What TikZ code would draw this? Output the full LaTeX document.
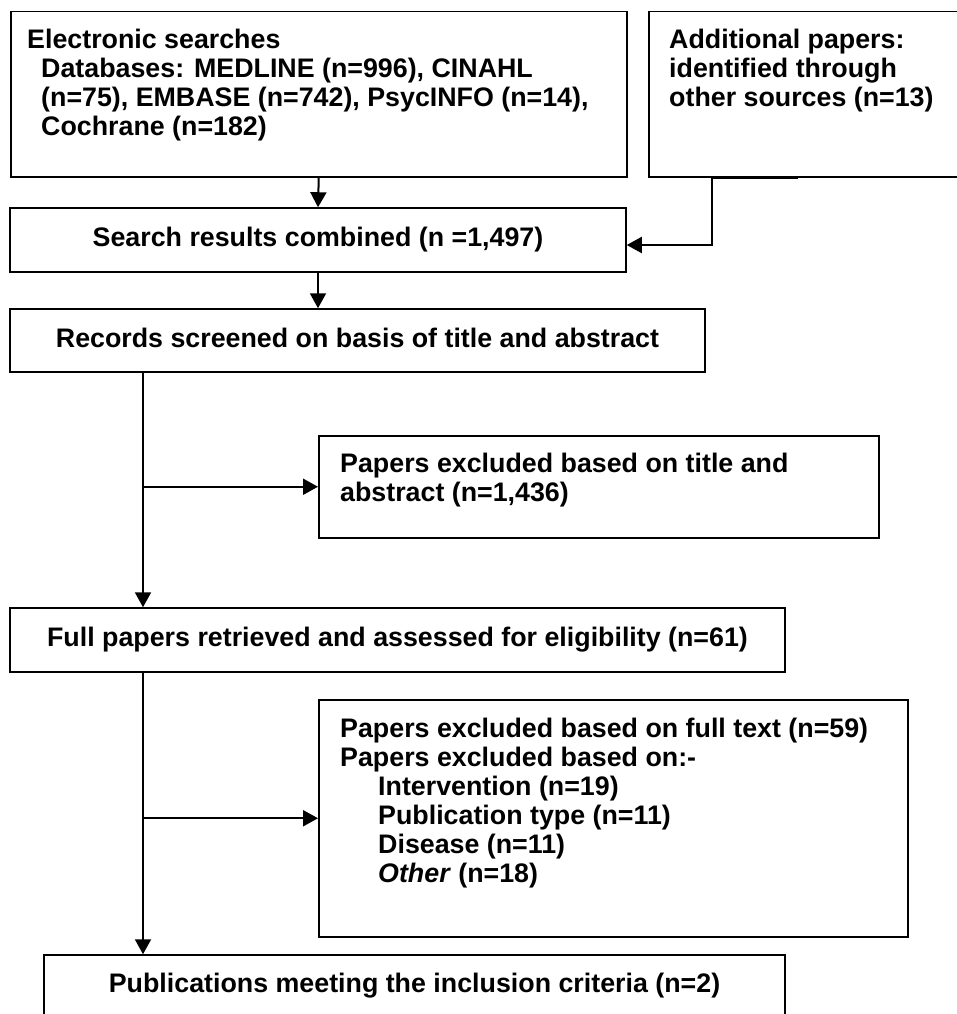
\documentclass[tikz,border=0pt]{standalone}
\usepackage{fontspec}
\setmainfont{Liberation Sans}
\usetikzlibrary{arrows.meta,positioning}

\begin{document}
\begin{tikzpicture}[
  x=1pt, y=-1pt,
  font=\fontsize{26.8}{29}\selectfont\bfseries,
  box/.style={draw=black, line width=1.5pt, anchor=north west, inner sep=0pt},
  cbox/.style={draw=black, line width=1.5pt, inner sep=0pt, text height=19.5pt, text depth=5.6pt},
  txt/.style={anchor=north west, inner sep=0pt, align=left},
  arr/.style={-{Triangle[length=15pt, width=16pt]}, line width=2pt}]
\path[use as bounding box, fill=white] (0,0) rectangle (956,1014);
% boxes
\node[box, minimum width=616pt, minimum height=165pt] (elec) at (10,11) {};
\node[box, minimum width=320pt, minimum height=165pt] (add) at (648,11) {};
\node[cbox, minimum width=616pt, minimum height=64pt] (search) at (318,240) {Search results combined (n =1,497)};
\node[cbox, minimum width=695pt, minimum height=63pt] (rec) at (357.5,340.5) {Records screened on basis of title and abstract};
\node[box, minimum width=560pt, minimum height=102pt] (excla) at (318,435) {};
\node[cbox, minimum width=775pt, minimum height=64pt] (full) at (397.5,640) {Full papers retrieved and assessed for eligibility (n=61)};
\node[box, minimum width=589pt, minimum height=237pt] (exclb) at (318,699) {};
\node[cbox, minimum width=741pt, minimum height=62pt] (pub) at (414.5,986) {Publications meeting the inclusion criteria (n=2)};
% texts inside the tall boxes
\node[txt, below right=17.4pt and 17pt of elec.north west] (electxt)
  {Electronic searches\\
   \hspace*{14pt}Databases: MEDLINE (n=996), CINAHL\\
   \hspace*{14pt}(n=75), EMBASE (n=742), PsycINFO (n=14),\\
   \hspace*{14pt}Cochrane (n=182)};
\node[txt, below right=17.4pt and 21pt of add.north west] (addtxt)
  {Additional papers:\\identified through\\other sources (n=13)};
\node[txt, below right=17.4pt and 22pt of excla.north west] (exclatxt)
  {Papers excluded based on title and\\abstract (n=1,436)};
\node[txt, below right=18.4pt and 22pt of exclb.north west] (exclbtxt)
  {Papers excluded based on full text (n=59)\\
   Papers excluded based on:-\\
   \hspace*{38pt}Intervention (n=19)\\
   \hspace*{38pt}Publication type (n=11)\\
   \hspace*{38pt}Disease (n=11)\\
   \hspace*{38pt}\textit{Other} (n=18)};
% connectors
\coordinate (trunk) at (143,0);
\draw[arr] (elec.south) -- (search.north);
\draw[arr] ([xshift=150pt]add.south west) -- ++(-86,0) |- ([yshift=-5pt]search.east);
\draw[arr] (search.south) -- (search.south |- rec.north);
\draw[arr] (rec.south -| trunk) -- (full.north -| trunk);
\draw[arr] (trunk |- excla.west) -- (excla.west);
\draw[arr] (full.south -| trunk) -- (pub.north -| trunk);
\draw[arr] (trunk |- exclb.west) -- (exclb.west);
\end{tikzpicture}
\end{document}
